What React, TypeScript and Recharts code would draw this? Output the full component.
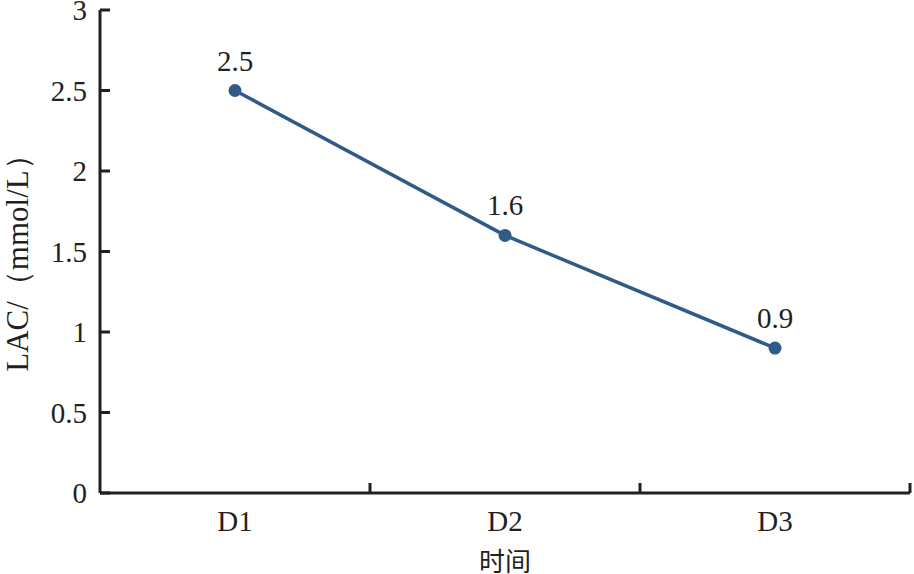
import { LineChart, Line, XAxis, YAxis, LabelList, Label } from "recharts";

const days = ["D1", "D2", "D3"];
const lacValues = [2.5, 1.6, 0.9];
const yTicks = [0, 0.5, 1, 1.5, 2, 2.5, 3];

const chartData = days.map((day, i) => ({ day, lac: lacValues[i] }));

const AXIS = "#231f20";
const LINE = "#2f5b86";
const FONT = "Liberation Serif, Times New Roman, Tinos, serif";
const CJK = "Noto Sans CJK SC, sans-serif";

// category labels centered in their band, tick marks at the band edges pointing up
const XTick = (props: any) => {
  const { x, y, payload } = props;
  const half = payload.offset ?? 0;
  const axisY = y - 8;
  return (
    <g>
      <line x1={x + half} x2={x + half} y1={axisY} y2={axisY - 10} stroke={AXIS} strokeWidth={3} />
      <text x={x} y={y + 30} textAnchor="middle" style={{ fontFamily: FONT, fontSize: 29 }} fill={AXIS}>
        {payload.value}
      </text>
    </g>
  );
};

// y ticks drawn inside the plot
const YTick = (props: any) => {
  const { x, y, payload } = props;
  const axisX = x + 13;
  return (
    <g>
      <line x1={axisX} x2={axisX + 10} y1={y} y2={y} stroke={AXIS} strokeWidth={3} />
      <text x={x} y={y + 10} textAnchor="end" style={{ fontFamily: FONT, fontSize: 29 }} fill={AXIS}>
        {payload.value}
      </text>
    </g>
  );
};

export default function App() {
  return (
    <div style={{ position: "absolute", left: 0, top: 0, width: 914, height: 574, background: "#fff" }}>
      <LineChart width={914} height={574} data={chartData} margin={{ top: 10, right: 4, left: 0, bottom: 0 }}>
        <XAxis
          dataKey="day"
          scale="band"
          height={81}
          stroke={AXIS}
          strokeWidth={3}
          tickLine={false}
          tickSize={0}
          tickMargin={8}
          tick={<XTick />}
        >
          <Label
            value="时间"
            position="insideBottom"
            offset={3}
            style={{ fontFamily: CJK, fontSize: 26, fill: AXIS }}
          />
        </XAxis>
        <YAxis
          domain={[0, 3]}
          ticks={yTicks}
          width={100}
          stroke={AXIS}
          strokeWidth={3}
          tickLine={false}
          tickSize={0}
          tickMargin={13}
          tick={<YTick />}
          interval={0}
        >
          <Label
            content={(p: any) => {
              const vb = p.viewBox;
              const cx = vb.x + 17;
              const cy = vb.y + vb.height / 2 + 4;
              return (
                <text
                  x={cx}
                  y={cy}
                  transform={`rotate(-90 ${cx} ${cy})`}
                  textAnchor="middle"
                  dominantBaseline="central"
                  style={{ fontFamily: FONT, fontSize: 31 }}
                  fill={AXIS}
                >
                  LAC/（mmol/L）
                </text>
              );
            }}
          />
        </YAxis>
        <Line
          type="linear"
          dataKey="lac"
          stroke={LINE}
          strokeWidth={3.5}
          dot={{ r: 6.5, fill: LINE, stroke: LINE, strokeWidth: 0 }}
          activeDot={false}
          isAnimationActive={false}
        >
          <LabelList
            dataKey="lac"
            position="top"
            offset={20}
            style={{ fontFamily: FONT, fontSize: 29, fill: AXIS }}
          />
        </Line>
      </LineChart>
    </div>
  );
}
